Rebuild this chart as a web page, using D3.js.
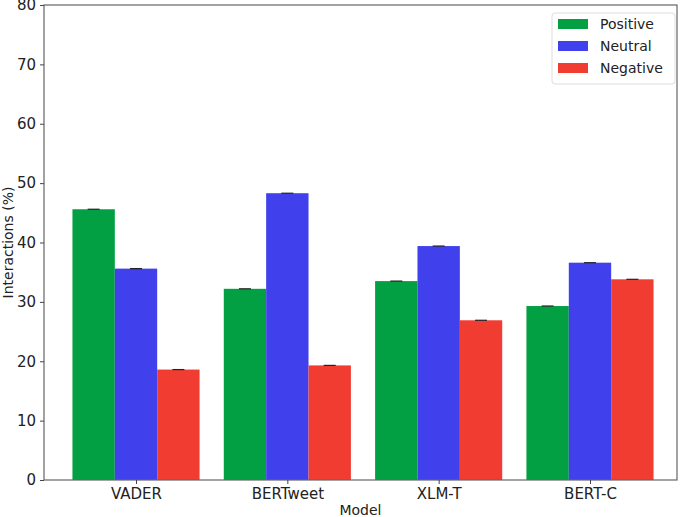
<!DOCTYPE html>
<html lang="en">
<head>
  <meta charset="UTF-8">
  <title>Interactions by model</title>
  <style>
    body { margin: 0; background: #fff; }
    svg text { font-family: "DejaVu Sans", sans-serif; fill: #222; }
  </style>
</head>
<body>
  <div id="chart"></div>
  <script src="https://cdn.jsdelivr.net/npm/d3@7"></script>
  <script>
    const models = ["VADER", "BERTweet", "XLM-T", "BERT-C"];
    const sentiments = ["Positive", "Neutral", "Negative"];
    const positive = [45.6, 32.2, 33.5, 29.3];
    const neutral = [35.6, 48.3, 39.4, 36.6];
    const negative = [18.6, 19.3, 26.9, 33.8];
    const yTicks = [0, 10, 20, 30, 40, 50, 60, 70, 80];

    const colors = ["#03a043", "#4040ec", "#f03c31"];
    const seriesValues = [positive, neutral, negative];

    const margin = { top: 5, right: 8, bottom: 37, left: 44 };
    const width = 685 - margin.left - margin.right;
    const height = 517 - margin.top - margin.bottom;

    const svg = d3.select("#chart").append("svg")
      .attr("width", 685)
      .attr("height", 517)
      .append("g")
      .attr("transform", `translate(${margin.left}, ${margin.top})`);

    // matplotlib-like numeric x positions, bar width 0.28
    const barW = 0.28;
    const x = d3.scaleLinear()
      .domain([-0.608, 3.575])
      .range([0, width]);

    const y = d3.scaleLinear()
      .domain([0, 80])
      .range([height, 0]);

    // bars
    seriesValues.forEach((vals, s) => {
      svg.selectAll(`.bar-${s}`)
        .data(vals)
        .enter().append("rect")
        .attr("class", `bar-${s}`)
        .attr("x", (d, i) => x(i + (s - 1) * barW - barW / 2))
        .attr("width", x(barW) - x(0))
        .attr("y", d => y(d))
        .attr("height", d => height - y(d))
        .attr("fill", colors[s]);

      // tiny error caps
      svg.selectAll(`.cap-${s}`)
        .data(vals)
        .enter().append("line")
        .attr("class", `cap-${s}`)
        .attr("x1", (d, i) => x(i + (s - 1) * barW) - 6)
        .attr("x2", (d, i) => x(i + (s - 1) * barW) + 6)
        .attr("y1", d => y(d))
        .attr("y2", d => y(d))
        .attr("stroke", "#222")
        .attr("stroke-width", 1.2);
    });

    // frame
    svg.append("rect")
      .attr("width", width)
      .attr("height", height)
      .attr("fill", "none")
      .attr("stroke", "#666")
      .attr("stroke-width", 1.2);

    // axes
    const xAxis = svg.append("g")
      .attr("transform", `translate(0, ${height})`)
      .call(d3.axisBottom(x).tickValues(d3.range(models.length)).tickFormat(i => models[i]).tickSize(4).tickPadding(4));
    const yAxis = svg.append("g")
      .call(d3.axisLeft(y).tickValues(yTicks).tickSize(4).tickPadding(4));

    [xAxis, yAxis].forEach(a => {
      a.select(".domain").remove();
      a.selectAll(".tick line").attr("stroke", "#444");
      a.selectAll(".tick text").style("font-size", "15px").attr("fill", "#222");
    });

    // axis labels
    svg.append("text")
      .attr("x", width / 2)
      .attr("y", height + 35)
      .attr("text-anchor", "middle")
      .style("font-size", "14px")
      .text("Model");

    svg.append("text")
      .attr("transform", `translate(${-31}, ${height / 2}) rotate(-90)`)
      .attr("text-anchor", "middle")
      .style("font-size", "14px")
      .text("Interactions (%)");

    // legend
    const legend = svg.append("g")
      .attr("transform", `translate(${width - 125}, 8)`);

    legend.append("rect")
      .attr("width", 123)
      .attr("height", 71)
      .attr("rx", 3)
      .attr("fill", "#fff")
      .attr("stroke", "#ddd");

    sentiments.forEach((name, i) => {
      const item = legend.append("g")
        .attr("transform", `translate(6, ${11 + i * 22})`);
      item.append("rect")
        .attr("width", 30)
        .attr("height", 10)
        .attr("y", -5)
        .attr("fill", colors[i]);
      item.append("text")
        .attr("x", 42)
        .attr("y", 5)
        .style("font-size", "14px")
        .text(name);
    });
  </script>
</body>
</html>
